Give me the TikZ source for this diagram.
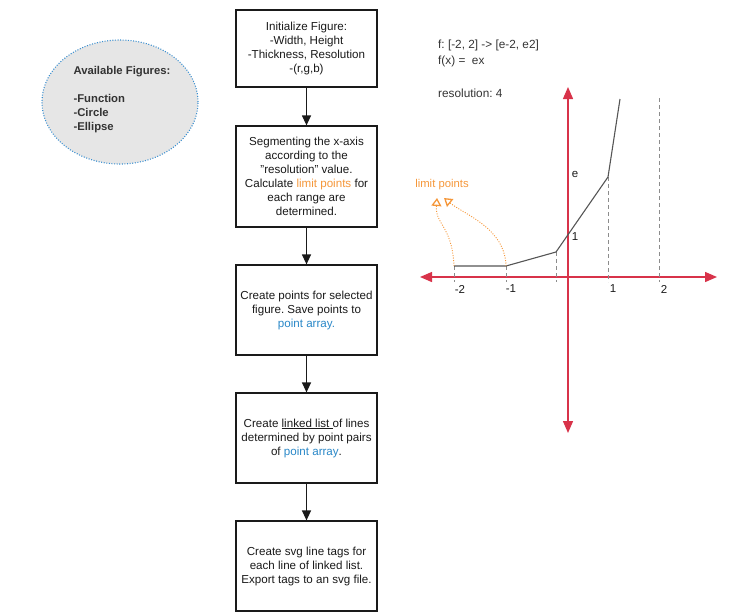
\documentclass[tikz,border=0pt]{standalone}
\usepackage{fontspec}
\setmainfont{Liberation Sans}
\usetikzlibrary{arrows.meta,shapes.geometric}
\frenchspacing

\definecolor{ink}{HTML}{1A1A1A}
\definecolor{note}{HTML}{333333}
\definecolor{accent}{HTML}{F5973A}
\definecolor{link}{HTML}{2A88C8}
\definecolor{axisred}{HTML}{D8334A}
\definecolor{curve}{HTML}{555555}
\definecolor{guide}{HTML}{8C8C8C}
\definecolor{bubble}{HTML}{E6E6E6}
\definecolor{bubbleedge}{HTML}{3B8FD0}

\tikzset{
  stepbox/.style={draw=ink, line width=1.2pt, fill=white, minimum width=141pt,
    align=center, text=ink, font=\fontsize{11.6}{14}\selectfont},
  flow/.style={draw=ink, line width=1.2pt, -{Triangle[length=10pt,width=9pt]}},
  axisline/.style={draw=axisred, line width=1.4pt,
    {Triangle[length=12pt,width=10pt]}-{Triangle[length=12pt,width=10pt]}},
  guideline/.style={draw=guide, line width=0.9pt, dash pattern=on 4pt off 3pt},
  plotline/.style={draw=curve, line width=1.1pt},
  ticklabel/.style={text=ink, font=\fontsize{11.5}{13}\selectfont, inner sep=0pt},
  notetext/.style={text=note, font=\fontsize{11.8}{14}\selectfont, inner sep=0pt, anchor=west},
  limitlink/.style={draw=accent, line width=0.9pt, dash pattern=on 1pt off 1.5pt,
    -{Triangle[open, length=8pt, width=10pt, line width=1.3pt]}},
}

\begin{document}
\begin{tikzpicture}[x=1pt, y=-1pt]
\useasboundingbox (0,0) rectangle (741,614);

% available figures bubble
\node[ellipse, draw=bubbleedge, fill=bubble, line width=1.1pt,
      dash pattern=on 1pt off 1.6pt, minimum width=156pt, minimum height=124pt]
      (figs) at (120,102) {};
\node[align=left, text=note, font=\bfseries\fontsize{11.3}{14}\selectfont, inner sep=0pt]
      (figstext) at (122,100) {Available Figures:\\[14pt]-Function\\-Circle\\-Ellipse};

% process steps
\node[stepbox, minimum height=77pt] (init) at (306.5,48.5)
  {Initialize Figure:\\-Width, Height\\-Thickness, Resolution\\-(r,g,b)};
\node[stepbox, minimum height=101pt] (segment) at (306.5,176.5)
  {Segmenting the x-axis\\according to the\\"resolution" value.\\
   Calculate \textcolor{accent}{limit points} for\\each range are\\determined.};
\node[stepbox, minimum height=90pt] (points) at (306.5,310)
  {Create points for selected\\figure. Save points to\\\textcolor{link}{point array.}};
\node[stepbox, minimum height=90pt] (lines) at (306.5,438)
  {Create \underline{linked list\ }of lines\\determined by point pairs\\of \textcolor{link}{point array}.};
\node[stepbox, minimum height=90pt] (export) at (306.5,566)
  {Create svg line tags for\\each line of linked list.\\Export tags to an svg file.};

\draw[flow] (init) -- (segment);
\draw[flow] (segment) -- (points);
\draw[flow] (points) -- (lines);
\draw[flow] (lines) -- (export);

% function description
\node[notetext] (range) at (438,45) {f: [-2, 2] -> [e-2, e2]};
\node[notetext] (rule) at (438,61) {f(x) =\ \ ex};
\node[notetext] (res) at (438,93) {resolution: 4};

% axes
\coordinate (ytop) at (568,87);
\coordinate (ybot) at (568,433);
\coordinate (xleft) at (420,277);
\coordinate (xright) at (717,277);
\draw[axisline] (xleft) -- (xright);
\draw[axisline] (ybot) -- (ytop);

% sample points of the piecewise linear approximation
\coordinate (p1) at (454,266);
\coordinate (p2) at (506,266);
\coordinate (p3) at (556,252);
\coordinate (p4) at (608,177);
\coordinate (p5) at (620,99);
\coordinate (q1) at (454,282);
\coordinate (q2) at (506,282);
\coordinate (q3) at (556,282);
\coordinate (q4) at (608,282);
\coordinate (g5top) at (659,98);
\coordinate (q5) at (659,282);

\draw[guideline] (p1) -- (q1);
\draw[guideline] (p2) -- (q2);
\draw[guideline] (p3) -- (q3);
\draw[guideline] (p4) -- (q4);
\draw[guideline] (g5top) -- (q5);

\draw[plotline] (p1) -- (p2) -- (p3) -- (p4) -- (p5);

% tick labels
\node[ticklabel] (tm2) at (460,289) {-2};
\node[ticklabel] (tm1) at (511,289) {-1};
\node[ticklabel] (tp1) at (613,289) {1};
\node[ticklabel] (tp2) at (664,289) {2};
\node[ticklabel] (te) at (575,174) {e};
\node[ticklabel] (tone) at (575,237) {1};

% limit points callout
\node[text=accent, font=\fontsize{11.3}{13}\selectfont, inner sep=0pt] (lp) at (442,185) {limit points};
\coordinate (lpa) at (437,198);
\coordinate (lpb) at (444,198);
\draw[limitlink] (p1) .. controls (452,225) and (435,225) .. (lpa);
\draw[limitlink] (p2) .. controls (505,228) and (465,215) .. (lpb);
\end{tikzpicture}
\end{document}
